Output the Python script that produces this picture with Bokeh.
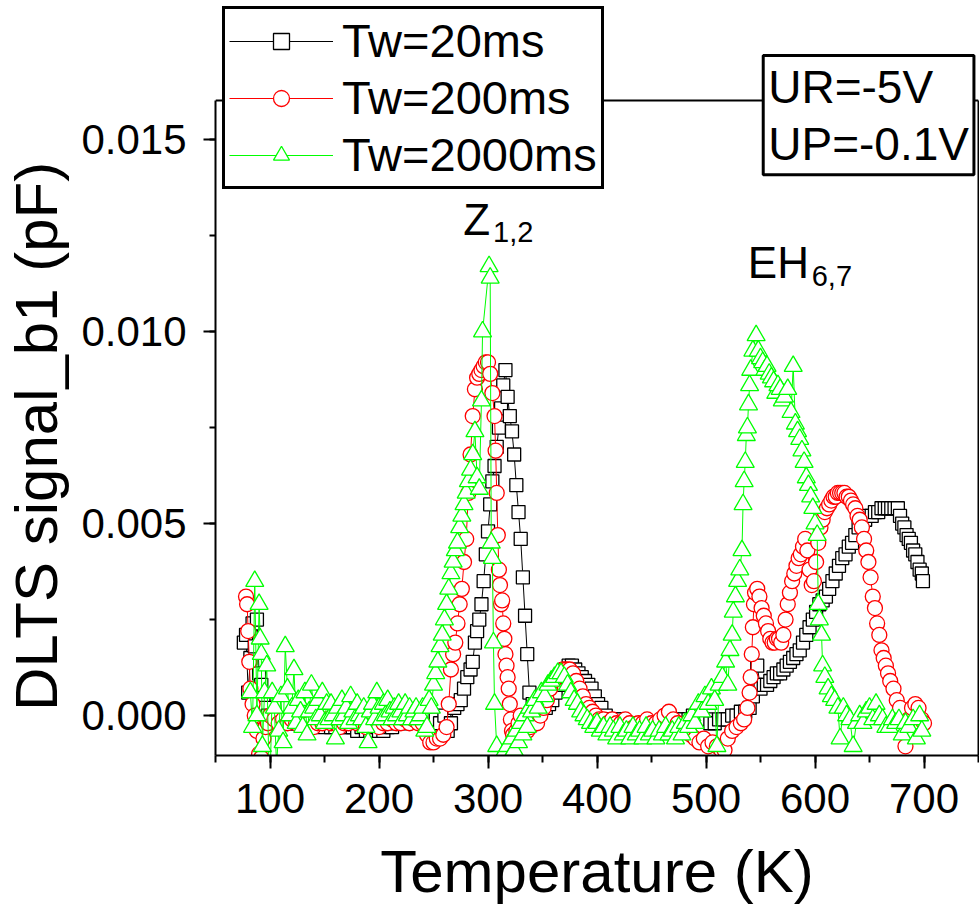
from bokeh.plotting import figure
from bokeh.models import (Range1d, SingleIntervalTicker, FixedTicker, PrintfTickFormatter,
                          Legend, LegendItem, Label, LinearAxis, Span)
from bokeh.embed import file_html
from bokeh.resources import INLINE

FONT = "Liberation Sans"

# ---------------- data ----------------
t_20 = [76, 78, 80, 82, 84, 86, 88, 90, 92, 94, 96, 98,
        100, 104, 108, 112, 116, 120, 124, 128, 132, 136, 140, 144, 148, 152, 156, 160,
        164, 168, 172, 176, 180, 184, 188, 192, 196, 200, 204, 208, 212, 216, 220, 224,
        228, 232, 236, 240, 244, 248, 252, 256, 260, 263, 266, 269, 272, 275, 278, 281,
        284, 286, 288, 290, 292, 294, 296, 298, 300, 302, 304, 306, 308, 310, 312, 314,
        316, 318, 320, 322, 324, 326, 328, 330, 332, 334, 336, 338, 341, 344, 347, 350,
        353, 356, 359, 362, 365, 368, 371, 374, 377, 380, 383, 386, 389, 392, 395, 398,
        401, 404, 408, 412, 416, 420, 424, 428, 432, 436, 440, 444, 448, 452, 456, 460,
        464, 468, 472, 476, 480, 484, 488, 492, 496, 500, 504, 508, 512, 516, 520, 524,
        528, 532, 536, 540, 543, 545, 547, 550, 553, 556, 559, 562, 565, 568, 571, 574,
        577, 580, 583, 586, 589, 592, 595, 598, 601, 604, 607, 610, 613, 616, 619, 622,
        625, 628, 631, 634, 637, 640, 643, 646, 649, 652, 655, 658, 661, 664, 667, 670,
        673, 676, 678, 680, 682, 684, 686, 688, 690, 692, 694, 696, 698, 699]
v_20 = [0.0019, 0.0021, 0.0006, 0.0015, 0.0024, 0.0018, 0.0025, 0.0011, 0.0008, 0.0004, 0.0002, 0.0000,
        -0.0001, -0.0001, -0.0002, -0.0001, -0.0002, -0.0002, -0.0001, -0.0002, -0.0002, -0.0003, -0.0002, -0.0002,
        -0.0003, -0.0002, -0.0003, -0.0003, -0.0002, -0.0003, -0.0003, -0.0003, -0.0004, -0.0003, -0.0004, -0.0004,
        -0.0003, -0.0004, -0.0004, -0.0003, -0.0003, -0.0002, -0.0002, -0.0001, -0.0001, 0.0000, -0.0001, 0.0000,
        0.0001, 0.0000, -0.0001, -0.0002, 0.0000, -0.0004, -0.0002, 0.0002, 0.0003, 0.0004, 0.0007, 0.0010,
        0.0012, 0.0014, 0.0019, 0.0022, 0.0025, 0.0029, 0.0035, 0.0042, 0.0048, 0.0055, 0.0061, 0.0065,
        0.0070, 0.0075, 0.0080, 0.0086, 0.0090, 0.0083, 0.0078, 0.0074, 0.0068, 0.0060, 0.0053, 0.0046,
        0.0036, 0.0026, 0.0016, 0.0006, 0.0003, 0.0003, 0.0002, 0.0003, 0.0002, 0.0003, 0.0004, 0.0006,
        0.0008, 0.0010, 0.0012, 0.0013, 0.0013, 0.0012, 0.0011, 0.0010, 0.0009, 0.0008, 0.0007, 0.0005,
        0.0003, 0.0002, 0.0000, -0.0001, -0.0001, -0.0001, -0.0002, -0.0002, -0.0002, -0.0002, -0.0002, -0.0003,
        -0.0002, -0.0002, -0.0003, -0.0002, -0.0002, -0.0002, -0.0002, -0.0001, -0.0001, -0.0001, 0.0000, -0.0001,
        -0.0001, -0.0001, -0.0002, -0.0002, -0.0001, -0.0001, -0.0001, 0.0000, 0.0000, 0.0001, 0.0001, 0.0002,
        0.0005, 0.0008, 0.0013, 0.0007, 0.0008, 0.0008, 0.0009, 0.0010, 0.0011, 0.0011, 0.0012, 0.0013,
        0.0014, 0.0015, 0.0016, 0.0017, 0.0019, 0.0021, 0.0023, 0.0025, 0.0027, 0.0029, 0.0030, 0.0031,
        0.0033, 0.0035, 0.0037, 0.0039, 0.0041, 0.0042, 0.0044, 0.0045, 0.0047, 0.0049, 0.0050, 0.0051,
        0.0052, 0.0052, 0.0053, 0.0053, 0.0054, 0.0054, 0.0054, 0.0054, 0.0054, 0.0054, 0.0052, 0.0050,
        0.0049, 0.0047, 0.0046, 0.0045, 0.0043, 0.0042, 0.0040, 0.0038, 0.0037, 0.0035]

t_200 = [78, 79, 80, 81, 82, 84, 86, 88, 90, 92, 94, 96, 98,
         100, 104, 108, 112, 116, 120, 124, 128, 132, 136, 140, 144, 148, 152, 156, 160,
         164, 168, 172, 176, 180, 184, 188, 192, 196, 200, 204, 208, 212, 216, 220, 224,
         228, 232, 236, 240, 244, 247, 250, 253, 256, 259, 262, 264, 266, 268, 270, 272,
         274, 276, 278, 280, 282, 284, 286, 288, 290, 292, 294, 296, 298, 300, 302, 304,
         306, 307, 308, 309, 310, 311, 312, 313, 314, 315, 316, 317, 318, 319, 320, 321,
         322, 323, 324, 326, 328, 330, 333, 336, 339, 342, 345, 348, 351, 354, 357, 360,
         363, 366, 369, 372, 375, 378, 381, 384, 387, 390, 393, 396, 399, 402, 406, 410,
         414, 418, 422, 426, 430, 434, 438, 442, 446, 450, 454, 458, 462, 466, 470, 474,
         478, 482, 486, 490, 494, 498, 502, 506, 510, 514, 517, 520, 524, 528, 532, 535,
         538, 540, 541, 542, 543, 544, 545, 547, 549, 551, 553, 555, 557, 559, 561, 563,
         565, 567, 569, 571, 573, 575, 577, 579, 581, 583, 585, 587, 589, 591, 593, 595,
         597, 599, 601, 603, 605, 607, 609, 611, 613, 615, 617, 619, 621, 623, 625, 627,
         629, 631, 633, 635, 637, 639, 641, 643, 645, 647, 649, 651, 653, 655, 657, 659,
         661, 663, 665, 667, 669, 672, 675, 678, 681, 683, 686, 689, 692, 695, 698, 700]
v_200 = [0.0031, 0.0029, 0.0022, 0.0014, 0.0007, 0.0003, 0.0000, -0.0004, -0.0010, -0.0011, -0.0006, -0.0003, -0.0002,
         0.0000, -0.0001, -0.0002, -0.0001, -0.0002, -0.0001, -0.0002, -0.0002, -0.0001, -0.0002, -0.0003, -0.0002,
         -0.0002, -0.0001, -0.0002, -0.0002, -0.0003, -0.0002, -0.0002, -0.0001, -0.0002, -0.0002, -0.0003, -0.0002,
         -0.0002, -0.0003, -0.0002, -0.0002, -0.0001, -0.0002, -0.0002, -0.0001, -0.0002, -0.0001, -0.0002, -0.0002,
         -0.0005, -0.0007, -0.0007, -0.0006, -0.0006, -0.0005, -0.0003, 0.0003, 0.0012, 0.0016, 0.0019, 0.0024,
         0.0029, 0.0033, 0.0040, 0.0046, 0.0058, 0.0068, 0.0078, 0.0085, 0.0088, 0.0089, 0.0090, 0.0091,
         0.0092, 0.0092, 0.0089, 0.0084, 0.0078, 0.0069, 0.0058, 0.0047, 0.0038, 0.0034, 0.0029, 0.0030,
         0.0024, 0.0020, 0.0016, 0.0013, 0.0010, 0.0007, 0.0003, -0.0001, -0.0004, -0.0005, -0.0006, -0.0004,
         -0.0002, 0.0000, -0.0002, -0.0004, -0.0003, -0.0001, -0.0002, 0.0000, 0.0002, 0.0004, 0.0007, 0.0009,
         0.0010, 0.0011, 0.0012, 0.0012, 0.0012, 0.0011, 0.0009, 0.0007, 0.0005, 0.0003, 0.0002, 0.0001,
         0.0000, -0.0001, -0.0001, -0.0002, -0.0001, -0.0002, -0.0002, -0.0001, -0.0002, -0.0003, -0.0002, -0.0002,
         -0.0001, -0.0002, -0.0002, -0.0001, 0.0000, 0.0001, -0.0001, -0.0002, -0.0003, -0.0004, -0.0005, -0.0006,
         -0.0007, -0.0006, -0.0008, -0.0007, -0.0008, -0.0009, -0.0009, -0.0006, -0.0004, -0.0003, -0.0002, -0.0001,
         0.0002, 0.0006, 0.0010, 0.0016, 0.0023, 0.0029, 0.0032, 0.0033, 0.0031, 0.0028, 0.0026, 0.0024,
         0.0022, 0.0020, 0.0019, 0.0019, 0.0020, 0.0020, 0.0019, 0.0021, 0.0025, 0.0029, 0.0032, 0.0035,
         0.0037, 0.0039, 0.0041, 0.0042, 0.0044, 0.0046, 0.0043, 0.0038, 0.0034, 0.0035, 0.0040, 0.0045,
         0.0049, 0.0051, 0.0053, 0.0054, 0.0055, 0.0056, 0.0057, 0.0057, 0.0058, 0.0058, 0.0058, 0.0058,
         0.0057, 0.0057, 0.0056, 0.0055, 0.0054, 0.0052, 0.0051, 0.0049, 0.0046, 0.0043, 0.0040, 0.0036,
         0.0031, 0.0028, 0.0024, 0.0021, 0.0017, 0.0015, 0.0013, 0.0011, 0.0009, 0.0007, 0.0004, 0.0002,
         -0.0003, -0.0008, -0.0001, 0.0002, 0.0003, 0.0002, -0.0001, -0.0002]

t_2000 = [82, 84, 86, 88, 90, 91, 92, 93, 95, 97, 99, 100, 102, 104, 106, 108, 110, 112,
          114, 116, 118, 120, 122, 124, 126, 128, 130, 132, 134, 136, 138, 140, 142, 144,
          146, 148, 150, 152, 154, 156, 158, 160, 162, 164, 166, 168, 170, 172, 174, 176,
          178, 180, 182, 184, 186, 188, 190, 192, 194, 196, 198, 200, 202, 204, 206, 208,
          210, 212, 214, 216, 218, 220, 222, 224, 226, 228, 230, 232, 234, 236, 238, 240,
          242, 244, 246, 248, 250, 252, 254, 256, 258, 260, 262, 264, 266, 268, 270, 272,
          274, 276, 278, 280, 282, 284, 286, 288, 290, 292, 294, 295, 301, 302, 303, 304,
          305, 306, 308, 310, 312, 314, 316, 318, 320, 322, 324, 326, 328, 330, 332, 334,
          336, 338, 340, 343, 346, 349, 352, 355, 358, 361, 364, 367, 370, 373, 376, 379,
          382, 385, 388, 391, 394, 397, 400, 403, 406, 409, 412, 415, 418, 421, 424, 427,
          430, 433, 436, 439, 442, 445, 448, 451, 454, 457, 460, 463, 466, 469, 472, 475,
          478, 481, 484, 487, 490, 493, 496, 499, 502, 505, 508, 510, 512, 515, 518, 520,
          522, 524, 525, 527, 529, 531, 533, 534, 535, 536, 537, 538, 539, 540, 541, 543,
          546, 548, 550, 552, 554, 556, 558, 560, 562, 564, 566, 568, 570, 572, 575, 578,
          580, 582, 584, 586, 588, 590, 592, 594, 596, 598, 600, 602, 603, 604, 606, 607,
          609, 612, 615, 618, 621, 623, 626, 629, 632, 635, 638, 641, 644, 647, 650, 653,
          656, 659, 662, 665, 668, 671, 674, 677, 680, 683, 686, 690, 693, 696, 698]
v_2000 = [0.0006, -0.0003, 0.0035, 0.0000, 0.0029, 0.0020, 0.0016, -0.0008, 0.0006, 0.0013, -0.0013, -0.0018,
          0.0006, 0.0002, -0.0013, -0.0004, 0.0005, -0.0007, 0.0018, 0.0007, 0.0000, 0.0002, 0.0012, -0.0002,
          0.0004, 0.0001, -0.0003, 0.0006, -0.0005, 0.0001, 0.0008, 0.0002, -0.0001, 0.0004, 0.0000, 0.0006,
          -0.0002, 0.0003, -0.0001, 0.0003, 0.0000, -0.0006, 0.0002, -0.0001, 0.0004, 0.0000, 0.0002, -0.0002,
          0.0005, 0.0001, -0.0001, 0.0003, 0.0000, -0.0001, 0.0002, -0.0003, -0.0007, 0.0001, 0.0003, -0.0001,
          0.0006, 0.0002, -0.0001, 0.0003, 0.0000, 0.0004, 0.0001, -0.0001, 0.0002, 0.0000, 0.0003, 0.0001,
          -0.0001, 0.0003, 0.0000, 0.0002, -0.0001, 0.0001, 0.0002, -0.0001, 0.0000, 0.0002, -0.0004, -0.0003,
          0.0004, 0.0002, 0.0008, 0.0011, 0.0014, 0.0018, 0.0021, 0.0025, 0.0029, 0.0033, 0.0037, 0.0040,
          0.0043, 0.0045, 0.0049, 0.0052, 0.0055, 0.0058, 0.0061, 0.0064, 0.0068, 0.0074, 0.0062, 0.0059,
          0.0082, 0.0100, 0.0117, 0.0114, 0.0045, 0.0041, 0.0019, 0.0003, -0.0008, -0.0012, -0.0014, -0.0010,
          -0.0013, -0.0008, -0.0011, -0.0006, -0.0009, -0.0004, -0.0007, -0.0002, -0.0005, 0.0000, -0.0003, 0.0002,
          0.0001, 0.0004, 0.0002, 0.0006, 0.0005, 0.0008, 0.0009, 0.0010, 0.0011, 0.0011, 0.0010, 0.0008,
          0.0006, 0.0004, 0.0003, 0.0001, 0.0000, -0.0001, -0.0002, -0.0003, -0.0002, -0.0004, -0.0003, -0.0005,
          -0.0003, -0.0004, -0.0006, -0.0003, -0.0005, -0.0004, -0.0006, -0.0003, -0.0005, -0.0004, -0.0006, -0.0003,
          -0.0005, -0.0004, -0.0006, -0.0004, -0.0005, -0.0003, -0.0005, -0.0004, -0.0006, -0.0003, -0.0005, -0.0002,
          -0.0003, 0.0000, -0.0002, 0.0003, 0.0001, 0.0005, 0.0003, 0.0007, 0.0004, -0.0008, 0.0008, 0.0010,
          0.0014, 0.0008, 0.0017, 0.0021, 0.0027, 0.0031, 0.0035, 0.0038, 0.0043, 0.0055, 0.0061, 0.0066,
          0.0073, 0.0075, 0.0081, 0.0086, 0.0090, 0.0095, 0.0099, 0.0095, 0.0093, 0.0092, 0.0090, 0.0091,
          0.0089, 0.0088, 0.0087, 0.0084, 0.0086, 0.0085, 0.0082, 0.0083, 0.0085, 0.0079, 0.0091, 0.0076,
          0.0074, 0.0072, 0.0069, 0.0066, 0.0062, 0.0060, 0.0057, 0.0054, 0.0050, 0.0047, 0.0029, 0.0025,
          0.0021, 0.0013, 0.0010, 0.0007, 0.0005, 0.0004, 0.0002, -0.0006, 0.0002, 0.0000, -0.0001, -0.0008,
          -0.0002, 0.0000, -0.0002, 0.0001, 0.0002, -0.0001, 0.0003, 0.0000, -0.0001, -0.0003, -0.0003, -0.0001,
          -0.0002, -0.0001, -0.0005, -0.0002, -0.0003, -0.0001, -0.0006, 0.0000, -0.0004]

series_labels = ["Tw=20ms", "Tw=200ms", "Tw=2000ms"]
x_ticks_interval = 100
y_ticks_interval = 0.005
Y_MIN, Y_MAX = -0.00104, 0.01602      # plotted axis range
Y_TOP_EXTRA = 0.018625                # space above the axes for legend / note box

# ---------------- figure ----------------
p = figure(width=979, height=910, output_backend="svg", toolbar_location=None,
           title=None, x_range=Range1d(50, 750), y_range=Range1d(Y_MIN, Y_TOP_EXTRA),
           min_border_left=214, min_border_right=1, min_border_top=0, min_border_bottom=155)
p.background_fill_color = "white"
p.border_fill_color = "white"
p.outline_line_color = None
p.xgrid.visible = False
p.ygrid.visible = False

for ax in (p.xaxis[0], p.yaxis[0]):
    ax.axis_line_width = 2
    ax.major_tick_line_width = 2
    ax.minor_tick_line_width = 2
    ax.major_tick_in = 0
    ax.minor_tick_in = 0
    ax.major_label_text_font = FONT
    ax.major_label_text_font_size = "42px"
    ax.major_label_text_color = "black"
    ax.axis_label_text_font = FONT
    ax.axis_label_text_font_size = "60px"
    ax.axis_label_text_font_style = "normal"
    ax.axis_label_text_color = "black"

p.xaxis.ticker = SingleIntervalTicker(interval=x_ticks_interval, num_minor_ticks=2)
p.yaxis.ticker = SingleIntervalTicker(interval=y_ticks_interval, num_minor_ticks=2)
p.yaxis.formatter = PrintfTickFormatter(format="%.3f")
p.yaxis.bounds = (Y_MIN, Y_MAX)
p.xaxis.major_tick_out = 13
p.xaxis.minor_tick_out = 7
p.yaxis.major_tick_out = 12
p.yaxis.minor_tick_out = 6
p.xaxis.major_label_standoff = 15
p.yaxis.major_label_standoff = 17
p.xaxis.axis_label = "Temperature (K)"
# trailing no-break spaces centre the visible title on the plotted part of the axis
p.yaxis.axis_label = "DLTS signal_b1 (pF)" + "\u00a0" * 7
p.xaxis.axis_label_standoff = 22
p.yaxis.axis_label_standoff = 8

# right frame line (an axis with no ticks) and top frame line
right_axis = LinearAxis(bounds=(Y_MIN, Y_MAX), ticker=FixedTicker(ticks=[]),
                        axis_line_width=2, major_tick_out=0, minor_tick_out=0,
                        major_tick_in=0, minor_tick_in=0, major_label_text_font_size="0px")
p.add_layout(right_axis, "right")
p.add_layout(Span(location=Y_MAX, dimension="width", line_color="black", line_width=2))

l1 = p.line(t_20, v_20, line_color="black", line_width=1)
s1 = p.scatter(t_20, v_20, marker="square", size=13, line_color="black",
               line_width=1.3, fill_color="white")
l2 = p.line(t_200, v_200, line_color="#FF0000", line_width=1)
s2 = p.scatter(t_200, v_200, marker="circle", size=15, line_color="#FF0000",
               line_width=1.3, fill_color="white")
l3 = p.line(t_2000, v_2000, line_color="#00FF00", line_width=1)
s3 = p.scatter(t_2000, v_2000, marker="triangle", size=18, line_color="#00FF00",
               line_width=1.3, fill_color="white")

legend = Legend(items=[LegendItem(label=series_labels[0], renderers=[l1, s1]),
                       LegendItem(label=series_labels[1], renderers=[l2, s2]),
                       LegendItem(label=series_labels[2], renderers=[l3, s3])],
                location=(7, 566), orientation="vertical")
legend.label_text_font = FONT
legend.label_text_font_size = "47px"
legend.label_text_color = "black"
legend.glyph_width = 104
legend.glyph_height = 40
legend.label_standoff = 9
legend.spacing = 2
legend.padding = 4
legend.margin = 0
legend.border_line_color = "black"
legend.border_line_alpha = 1.0
legend.border_line_width = 3
legend.background_fill_color = "white"
legend.background_fill_alpha = 1
p.add_layout(legend, "center")

box = Label(x=552.5, y=0.01719, x_units="data", y_units="data", text="UR=-5V\nUP=-0.1V",
            anchor="top_left", text_font=FONT, text_font_size="46px", text_color="black",
            text_line_height=1.1, padding=5, border_line_color="black", border_line_width=3,
            border_line_alpha=1.0, background_fill_color="white", background_fill_alpha=1)
p.add_layout(box)

for txt, x, y, size in [("Z", 277.2, 0.013554, "44px"), ("1,2", 304.7, 0.012856, "29px"),
                        ("EH", 538.4, 0.012434, "44px"), ("6,7", 597.0, 0.01171, "29px")]:
    p.add_layout(Label(x=x, y=y, text=txt, text_font=FONT, text_font_size=size,
                       text_color="black", anchor="top_left", text_line_height=1.0))

open("out.html", "w").write(file_html(p, INLINE))
